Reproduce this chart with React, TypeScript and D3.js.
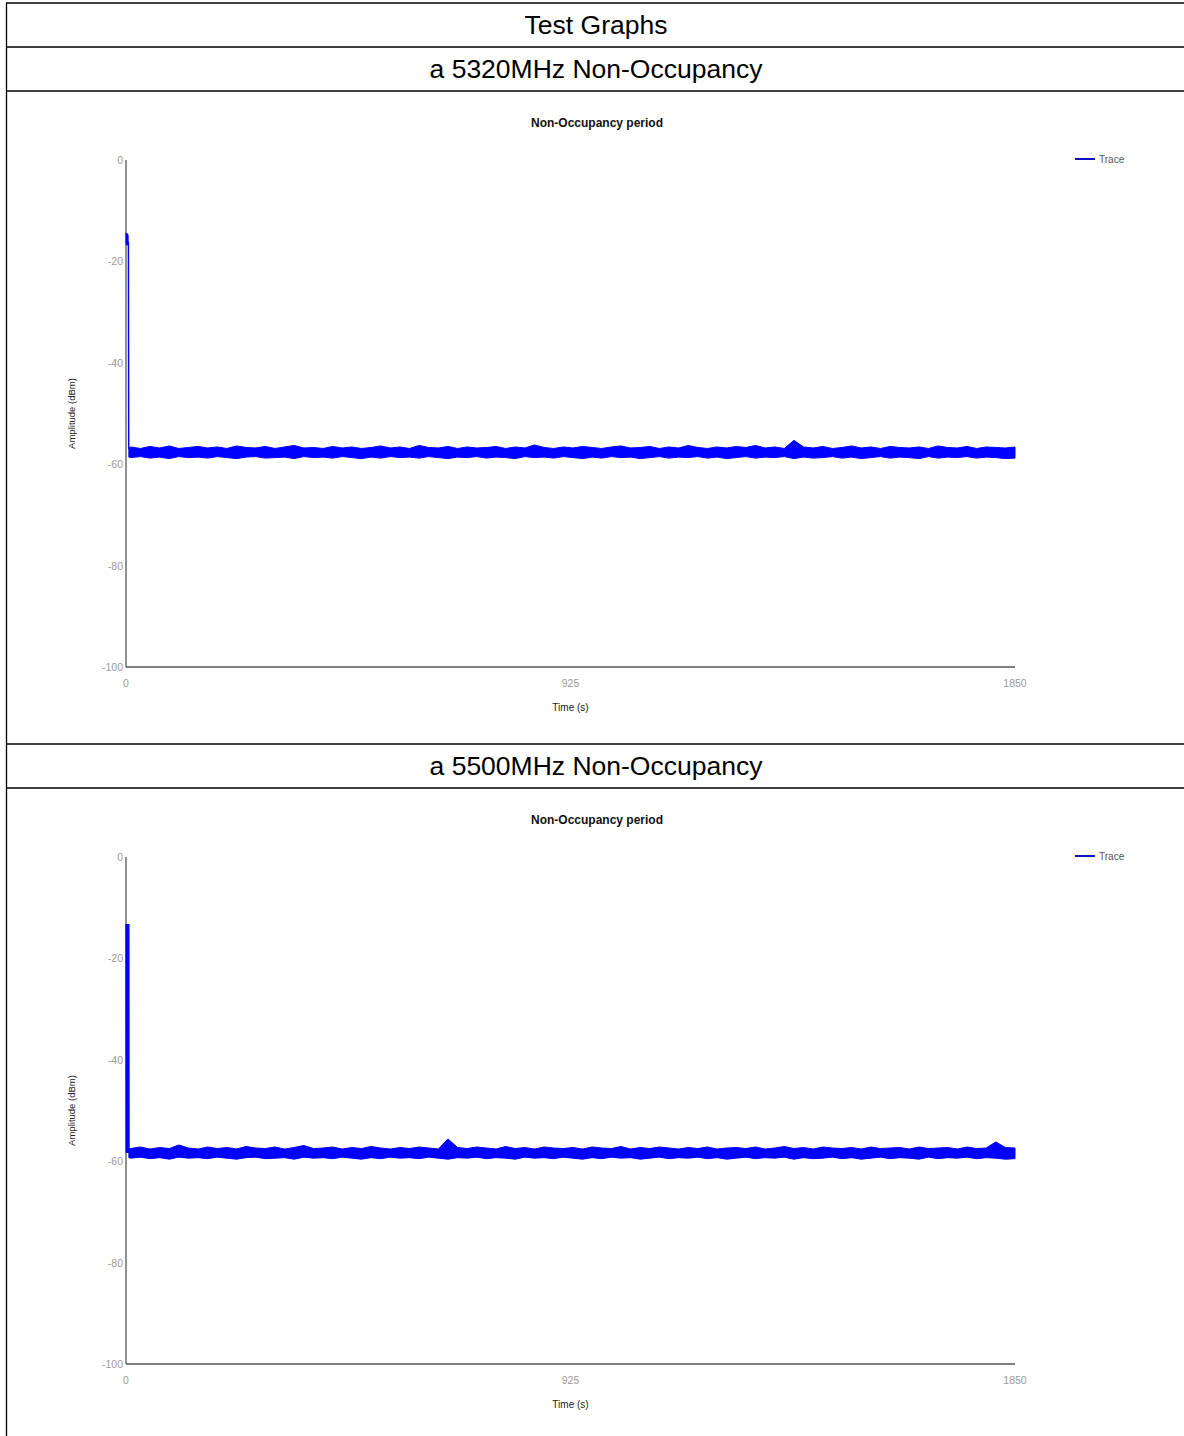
import React from "react";
import * as d3 from "d3";

// ---------- data ----------
const TABLE_HEADERS = ["Test Graphs", "a 5320MHz Non-Occupancy", "a 5500MHz Non-Occupancy"];
const CHART_TITLE = "Non-Occupancy period";
const X_LABEL = "Time (s)";
const Y_LABEL = "Amplitude (dBm)";
const LEGEND_LABEL = "Trace";
const X_TICKS = [0, 925, 1850];
const Y_TICKS = [0, -20, -40, -60, -80, -100];
const X_DOMAIN = [0, 1850];
const Y_DOMAIN = [-100, 0];

// time stamps of the noise band bins (s)
const BAND_T = [6, ...d3.range(10, 1851, 20)];

// chart 1 (5320 MHz): start burst then noise envelope
const INIT_T1 = [0.2, 0.8, 1.4, 2.0, 2.6, 3.2, 3.8, 4.4, 5.0, 5.6, 6.0];
const INIT_V1 = [-14.4, -16.7, -14.6, -16.8, -14.5, -16.6, -14.7, -16.9, -16.2, -57.0, -56.9];
const UPPER_1 = [-56.8,
  -56.6,-56.9,-56.5,-56.8,-56.4,-56.9,-56.7,-56.5,-56.8,-56.6,
  -56.9,-56.4,-56.7,-56.8,-56.5,-56.9,-56.6,-56.3,-56.8,-56.7,
  -56.9,-56.5,-56.8,-56.6,-56.9,-56.7,-56.4,-56.8,-56.6,-56.9,
  -56.3,-56.7,-56.8,-56.5,-56.9,-56.6,-56.8,-56.7,-56.5,-56.9,
  -56.6,-56.8,-56.2,-56.7,-56.9,-56.6,-56.8,-56.5,-56.7,-56.9,
  -56.6,-56.4,-56.8,-56.7,-56.5,-56.9,-56.6,-56.8,-56.3,-56.7,
  -56.9,-56.6,-56.8,-56.5,-56.7,-56.3,-56.8,-56.6,-56.9,-55.3,
  -56.6,-56.8,-56.5,-56.9,-56.7,-56.4,-56.8,-56.6,-56.9,-56.5,
  -56.7,-56.8,-56.6,-56.9,-56.4,-56.7,-56.8,-56.5,-56.9,-56.6,
  -56.7,-56.8,-56.6];
const LOWER_1 = [-58.6,
  -58.7,-58.5,-58.8,-58.6,-58.9,-58.5,-58.7,-58.6,-58.8,-58.5,
  -58.7,-58.9,-58.6,-58.5,-58.8,-58.7,-58.6,-58.9,-58.5,-58.7,
  -58.6,-58.8,-58.5,-58.7,-58.9,-58.6,-58.8,-58.5,-58.7,-58.6,
  -58.8,-58.5,-58.7,-58.9,-58.6,-58.7,-58.5,-58.8,-58.6,-58.7,
  -58.9,-58.5,-58.7,-58.6,-58.8,-58.5,-58.7,-58.9,-58.6,-58.8,
  -58.5,-58.7,-58.6,-58.9,-58.7,-58.5,-58.8,-58.6,-58.7,-58.5,
  -58.8,-58.6,-58.9,-58.7,-58.5,-58.8,-58.6,-58.7,-58.5,-58.9,
  -58.6,-58.8,-58.7,-58.5,-58.8,-58.6,-58.9,-58.7,-58.5,-58.8,
  -58.6,-58.7,-58.9,-58.5,-58.8,-58.6,-58.7,-58.5,-58.8,-58.6,
  -58.7,-58.9,-58.8];

// chart 2 (5500 MHz)
const INIT_T2 = [0.2, 0.6, 1.0, 1.4, 1.8, 2.2, 2.6, 3.0, 3.4, 3.8, 4.2, 4.6, 5.0, 5.4, 5.8, 6.2, 6.6];
const INIT_V2 = [-13.2, -58.3, -13.3, -58.2, -13.2, -58.4, -13.3, -58.2, -13.2, -58.3, -13.4, -58.2, -13.3, -58.4, -13.2, -58.3, -57.6];
const UPPER_2 = [-57.4,
  -57.5,-57.2,-57.6,-57.3,-57.5,-56.8,-57.4,-57.6,-57.2,-57.5,
  -57.3,-57.6,-57.1,-57.4,-57.5,-57.2,-57.6,-57.3,-56.9,-57.5,
  -57.4,-57.2,-57.6,-57.3,-57.5,-57.1,-57.4,-57.6,-57.3,-57.5,
  -57.2,-57.4,-57.6,-55.6,-57.3,-57.5,-57.2,-57.4,-57.6,-57.1,
  -57.5,-57.3,-57.6,-57.2,-57.4,-57.5,-57.3,-57.6,-57.2,-57.4,
  -57.5,-57.1,-57.6,-57.3,-57.5,-57.2,-57.4,-57.6,-57.3,-57.5,
  -57.2,-57.6,-57.4,-57.3,-57.5,-57.2,-57.6,-57.4,-57.1,-57.5,
  -57.3,-57.6,-57.2,-57.4,-57.5,-57.3,-57.6,-57.2,-57.5,-57.4,
  -57.3,-57.6,-57.2,-57.5,-57.4,-57.3,-57.6,-57.2,-57.5,-57.4,
  -56.2,-57.3,-57.4];
const LOWER_2 = [-59.3,
  -59.4,-59.2,-59.5,-59.3,-59.6,-59.2,-59.4,-59.3,-59.5,-59.2,
  -59.4,-59.6,-59.3,-59.2,-59.5,-59.4,-59.3,-59.6,-59.2,-59.4,
  -59.3,-59.5,-59.2,-59.4,-59.6,-59.3,-59.5,-59.2,-59.4,-59.3,
  -59.5,-59.2,-59.4,-59.6,-59.3,-59.4,-59.2,-59.5,-59.3,-59.4,
  -59.6,-59.2,-59.4,-59.3,-59.5,-59.2,-59.4,-59.6,-59.3,-59.5,
  -59.2,-59.4,-59.3,-59.6,-59.4,-59.2,-59.5,-59.3,-59.4,-59.2,
  -59.5,-59.3,-59.6,-59.4,-59.2,-59.5,-59.3,-59.4,-59.2,-59.6,
  -59.3,-59.5,-59.4,-59.2,-59.5,-59.3,-59.6,-59.4,-59.2,-59.5,
  -59.3,-59.4,-59.6,-59.2,-59.5,-59.3,-59.4,-59.2,-59.5,-59.3,
  -59.4,-59.6,-59.5];

const CHARTS = [
  { initT: INIT_T1, initV: INIT_V1, upper: UPPER_1, lower: LOWER_1 },
  { initT: INIT_T2, initV: INIT_V2, upper: UPPER_2, lower: LOWER_2 },
];

// ---------- layout ----------
const W = 1184;
const H = 1436;
const FONT = "Liberation Sans, Arial, Helvetica, sans-serif";
const BLUE = "#0000ff";

function Chart({ data, dy }: { data: typeof CHARTS[number]; dy: number }) {
  const x = d3.scaleLinear().domain(X_DOMAIN).range([126, 1015]);
  const y = d3.scaleLinear().domain(Y_DOMAIN).range([667 + dy, 160 + dy]);
  const initLine = d3
    .line<number>()
    .x((_, i) => x(data.initT[i]))
    .y((v) => y(v))(data.initV) as string;
  const area = d3
    .area<number>()
    .x((t) => x(t))
    .y0((_, i) => y(data.lower[i]))
    .y1((_, i) => y(data.upper[i]))(BAND_T) as string;
  const xMid = (x.range()[0] + x.range()[1]) / 2;
  return (
    <g fontFamily={FONT}>
      <text x={597} y={123 + dy} textAnchor="middle" dominantBaseline="central" fontSize={12} fontWeight="bold" fill="#111">
        {CHART_TITLE}
      </text>
      {/* axes */}
      <line x1={x(0)} x2={x(0)} y1={y(0)} y2={y(-100)} stroke="#555" strokeWidth={1.3} />
      <line x1={x(0)} x2={x(1850)} y1={y(-100)} y2={y(-100)} stroke="#555" strokeWidth={1.3} />
      {Y_TICKS.map((t) => (
        <text key={t} x={123} y={y(t)} textAnchor="end" dominantBaseline="central" fontSize={10.5} fill="#9a9a9a">
          {t}
        </text>
      ))}
      {X_TICKS.map((t) => (
        <text key={t} x={x(t)} y={683 + dy} textAnchor="middle" dominantBaseline="central" fontSize={10.5} fill="#9a9a9a">
          {t}
        </text>
      ))}
      <text x={xMid} y={707 + dy} textAnchor="middle" dominantBaseline="central" fontSize={10} fill="#222">
        {X_LABEL}
      </text>
      <text
        transform={`translate(71,${(y(0) + y(-100)) / 2}) rotate(-90)`}
        textAnchor="middle"
        dominantBaseline="central"
        fontSize={9.5}
        fill="#222"
      >
        {Y_LABEL}
      </text>
      {/* trace */}
      <path d={initLine} fill="none" stroke={BLUE} strokeWidth={1.5} />
      <path d={area} fill={BLUE} stroke={BLUE} strokeWidth={1} strokeLinejoin="miter" />
      {/* legend */}
      <line x1={1075} x2={1095} y1={159 + dy} y2={159 + dy} stroke="#1010c0" strokeWidth={2} />
      <text x={1099} y={159 + dy} dominantBaseline="central" fontSize={10} fill="#555">
        {LEGEND_LABEL}
      </text>
    </g>
  );
}

export default function App() {
  const rowLines = [3, 47, 91, 744, 788];
  const headerY = [25, 69, 766];
  return (
    <svg width={W} height={H} style={{ position: "absolute", left: 0, top: 0, background: "#fff" }}>
      <rect x={0} y={0} width={W} height={H} fill="#fff" />
      {rowLines.map((yy) => (
        <line key={yy} x1={6} x2={W} y1={yy} y2={yy} stroke="#000" strokeWidth={1.3} />
      ))}
      <line x1={6.5} x2={6.5} y1={3} y2={H} stroke="#000" strokeWidth={1.3} />
      {TABLE_HEADERS.map((h, i) => (
        <text key={h} x={596} y={headerY[i]} textAnchor="middle" dominantBaseline="central" fontFamily={FONT} fontSize={26.5} fill="#000">
          {h}
        </text>
      ))}
      {CHARTS.map((c, i) => (
        <Chart key={i} data={c} dy={i * 697} />
      ))}
    </svg>
  );
}
